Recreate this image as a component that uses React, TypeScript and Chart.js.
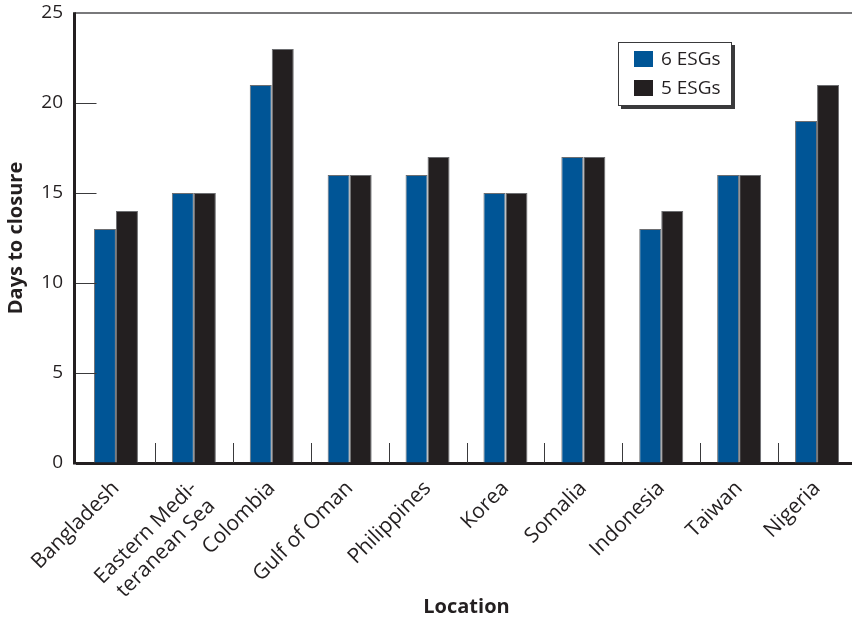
import React, { useEffect, useRef } from "react";
import { Chart, registerables } from "chart.js";

Chart.register(...registerables);

const categories: (string | string[])[] = [
  "Bangladesh",
  ["Eastern Medi-", "teranean Sea"],
  "Colombia",
  "Gulf of Oman",
  "Philippines",
  "Korea",
  "Somalia",
  "Indonesia",
  "Taiwan",
  "Nigeria",
];
const esg6 = [13, 15, 21, 16, 16, 15, 17, 13, 16, 19];
const esg5 = [14, 15, 23, 16, 17, 15, 17, 14, 16, 21];
const seriesLabels = ["6 ESGs", "5 ESGs"];
const yMin = 0;
const yMax = 25;
const yStep = 5;

const FONT = "'Open Sans', 'Noto Sans', sans-serif";
const INK = "#231f20";

const decorPlugin = {
  id: "decor",
  afterDraw(chart: any) {
    const { ctx, chartArea, scales } = chart;
    const x = scales.x;
    const y = scales.y;
    const axisX = chartArea.left - 2.5;
    ctx.save();
    // top line at max
    ctx.strokeStyle = "#4d4d4f";
    ctx.lineWidth = 1.5;
    const yt = y.getPixelForValue(yMax);
    ctx.beginPath();
    ctx.moveTo(axisX, yt);
    ctx.lineTo(chart.width, yt);
    ctx.stroke();
    // inner y ticks
    ctx.strokeStyle = "#3a3a3c";
    ctx.lineWidth = 1;
    for (let v = yMin + yStep; v < yMax; v += yStep) {
      const py = Math.round(y.getPixelForValue(v)) + 0.5;
      ctx.beginPath();
      ctx.moveTo(axisX, py);
      ctx.lineTo(axisX + 22, py);
      ctx.stroke();
    }
    // inner x ticks between categories
    for (let i = 1; i < categories.length; i++) {
      const px = Math.round((x.getPixelForValue(i - 1) + x.getPixelForValue(i)) / 2) + 0.5;
      ctx.beginPath();
      ctx.moveTo(px, chartArea.bottom);
      ctx.lineTo(px, chartArea.bottom - 20);
      ctx.stroke();
    }
    // left axis line
    ctx.strokeStyle = INK;
    ctx.lineWidth = 3;
    ctx.beginPath();
    ctx.moveTo(axisX, yt - 0.75);
    ctx.lineTo(axisX, chartArea.bottom + 1.5);
    ctx.stroke();
    // legend
    const lx = 618, ly = 42, lw = 114, lh = 64;
    ctx.fillStyle = "#3a3a3c";
    ctx.fillRect(lx + 3, ly + 3, lw, lh);
    ctx.fillStyle = "#ffffff";
    ctx.fillRect(lx, ly, lw, lh);
    ctx.strokeStyle = "#3a3a3c";
    ctx.lineWidth = 1;
    ctx.strokeRect(lx + 0.5, ly + 0.5, lw - 1, lh - 1);
    ctx.font = `19px ${FONT}`;
    ctx.textBaseline = "middle";
    ctx.textAlign = "left";
    chart.data.datasets.forEach((ds: any, i: number) => {
      const cy = ly + 17 + i * 29;
      ctx.fillStyle = ds.backgroundColor;
      ctx.fillRect(lx + 16, cy - 8, 19, 16);
      ctx.fillStyle = INK;
      ctx.fillText(ds.label, lx + 43, cy + 1);
    });
    ctx.restore();
  },
};

export default function App() {
  const ref = useRef<HTMLCanvasElement | null>(null);
  useEffect(() => {
    if (!ref.current) return;
    const chart = new Chart(ref.current, {
      type: "bar",
      data: {
        labels: categories,
        datasets: [
          {
            label: seriesLabels[0],
            data: esg6,
            backgroundColor: "#005596",
            borderColor: "#6d6e71",
            borderWidth: 1,
            categoryPercentage: 0.565,
            barPercentage: 1,
          },
          {
            label: seriesLabels[1],
            data: esg5,
            backgroundColor: INK,
            borderColor: "#6d6e71",
            borderWidth: 1,
            categoryPercentage: 0.565,
            barPercentage: 1,
          },
        ],
      },
      options: {
        responsive: false,
        animation: false,
        layout: { padding: { top: 13, right: 4, left: 0, bottom: 0 } },
        plugins: {
          legend: { display: false },
          tooltip: { enabled: false },
        },
        scales: {
          x: {
            grid: { display: true, drawOnChartArea: false, drawTicks: false, tickLength: 0 },
            border: { display: true, color: INK, width: 3 },
            ticks: {
              color: INK,
              font: { family: FONT, size: 21 },
              minRotation: 45,
              maxRotation: 45,
              padding: 13,
              autoSkip: false,
            },
            title: {
              display: true,
              text: "Location",
              color: INK,
              font: { family: FONT, size: 20, weight: "bold" },
              padding: { top: 4, bottom: 0 },
            },
            afterFit: (s: any) => {
              s.height = 156;
              s.paddingLeft = 0;
              s.paddingRight = 0;
            },
          },
          y: {
            min: yMin,
            max: yMax,
            grid: { display: true, drawOnChartArea: false, drawTicks: false, tickLength: 0 },
            border: { display: false },
            ticks: {
              stepSize: yStep,
              color: INK,
              font: { family: FONT, size: 19 },
              padding: 14,
            },
            title: {
              display: true,
              text: "Days to closure",
              color: INK,
              font: { family: FONT, size: 20, weight: "bold" },
              padding: { top: 4, bottom: 4 },
            },
            afterFit: (s: any) => {
              s.width = 77;
              s.paddingTop = 0;
              s.paddingBottom = 0;
            },
          },
        },
      },
      plugins: [decorPlugin],
    } as any);
    return () => chart.destroy();
  }, []);
  return (
    <div
      style={{
        position: "absolute",
        left: 0,
        top: 0,
        width: 852,
        height: 619,
        overflow: "hidden",
        background: "#ffffff",
      }}
    >
      <canvas ref={ref} width={860} height={619} style={{ display: "block" }} />
    </div>
  );
}
